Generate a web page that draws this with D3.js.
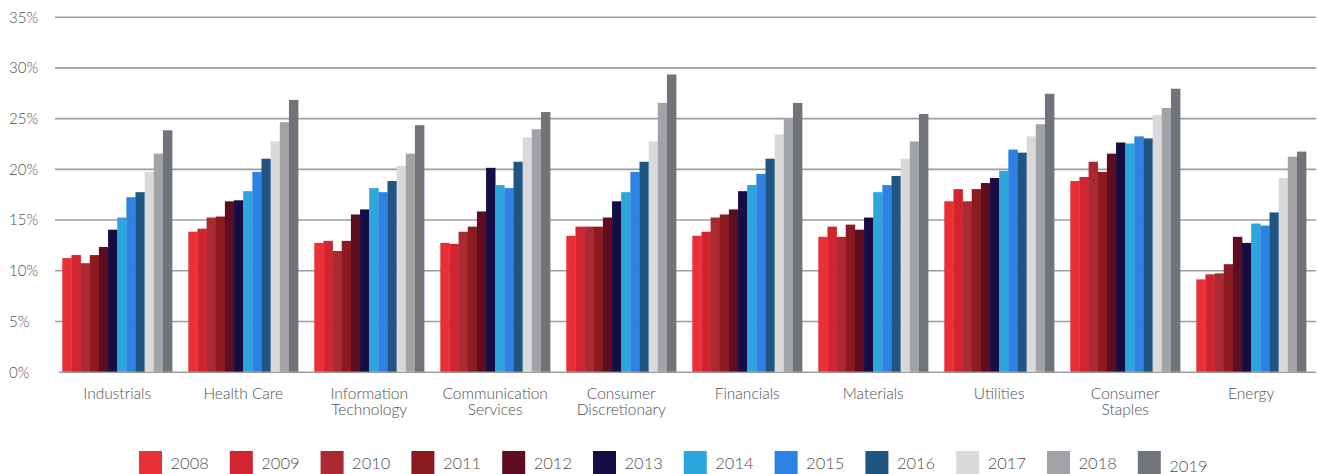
<!DOCTYPE html>
<html>
<head>
<meta charset="utf-8">
<script src="https://cdn.jsdelivr.net/npm/d3@7/dist/d3.min.js"></script>
<style>
  html, body { margin: 0; padding: 0; background: #fff; }
  svg { display: block; }
  text { font-family: Lato, "Open Sans", "Noto Sans", sans-serif; font-weight: 300; fill: #505052; }
</style>
</head>
<body>
<div id="chart"></div>
<script>
// Sector categories (line breaks marked with \n)
const sectors = [
  "Industrials", "Health Care", "Information\nTechnology", "Communication\nServices",
  "Consumer\nDiscretionary", "Financials", "Materials", "Utilities",
  "Consumer\nStaples", "Energy"
];

const years = ["2008","2009","2010","2011","2012","2013","2014","2015","2016","2017","2018","2019"];

const yearColors = ["#e83036","#d22331","#ab2a32","#8c1b21","#5e0d20","#170d45",
                    "#2ca6dd","#2d82e3","#1f5580","#d9d9d9","#a2a3a7","#707378"];

// Percent values per sector, one entry per year 2008..2019
const industrials     = [11.2, 11.5, 10.7, 11.5, 12.3, 14.0, 15.2, 17.2, 17.7, 19.7, 21.5, 23.8];
const healthCare      = [13.8, 14.1, 15.2, 15.3, 16.8, 16.9, 17.8, 19.7, 21.0, 22.7, 24.6, 26.8];
const infoTech        = [12.7, 12.9, 11.9, 12.9, 15.5, 16.0, 18.1, 17.7, 18.8, 20.3, 21.5, 24.3];
const commServices    = [12.7, 12.6, 13.8, 14.3, 15.8, 20.1, 18.4, 18.1, 20.7, 23.1, 23.9, 25.6];
const consumerDisc    = [13.4, 14.3, 14.3, 14.3, 15.2, 16.8, 17.7, 19.7, 20.7, 22.7, 26.5, 29.3];
const financials      = [13.4, 13.8, 15.2, 15.5, 16.0, 17.8, 18.4, 19.5, 21.0, 23.4, 25.0, 26.5];
const materials       = [13.3, 14.3, 13.3, 14.5, 14.0, 15.2, 17.7, 18.4, 19.3, 21.0, 22.7, 25.4];
const utilities       = [16.8, 18.0, 16.8, 18.0, 18.6, 19.1, 19.8, 21.9, 21.6, 23.2, 24.4, 27.4];
const consumerStaples = [18.8, 19.2, 20.7, 19.7, 21.5, 22.6, 22.5, 23.2, 23.0, 25.3, 26.0, 27.9];
const energy          = [ 9.1,  9.6,  9.7, 10.6, 13.3, 12.7, 14.6, 14.4, 15.7, 19.1, 21.2, 21.7];

const yTicks = [0, 5, 10, 15, 20, 25, 30, 35];

const seriesBySector = [industrials, healthCare, infoTech, commServices, consumerDisc,
                        financials, materials, utilities, consumerStaples, energy];

const rows = sectors.map((s, i) => ({
  sector: s,
  values: years.map((y, j) => ({ year: y, value: seriesBySector[i][j] }))
}));

const W = 1318, H = 474;
const svg = d3.select("#chart").append("svg").attr("width", W).attr("height", H);

const x0 = d3.scaleBand().domain(sectors).range([54.2, 1314.2])
  .paddingInner(0.1286).paddingOuter(0.0643);
const x1 = d3.scaleBand().domain(years).range([0, x0.bandwidth()]).padding(0);
const y = d3.scaleLinear().domain([0, 35]).range([371.7, 16.7]);
const color = d3.scaleOrdinal().domain(years).range(yearColors);

// Horizontal gridlines with left-aligned percentage labels
const yAxis = d3.axisLeft(y).tickValues(yTicks).tickSize(0).tickFormat(d => d + "%");
const gy = svg.append("g").call(yAxis);
gy.select(".domain").remove();
gy.selectAll(".tick text")
  .attr("x", 9).attr("dy", "0.36em")
  .attr("text-anchor", "start")
  .style("font-size", "15px")
  .style("font-family", "Lato, 'Open Sans', sans-serif")
  .style("font-weight", 300)
  .style("fill", "#505052");
gy.selectAll(".tick line").remove();
gy.selectAll(".tick").append("line")
  .attr("x1", d => d === 0 ? 59 : 55).attr("x2", 1316)
  .attr("y1", 0).attr("y2", 0)
  .attr("stroke", "#9d9d9d").attr("stroke-width", 1.6);

// Grouped bars
const groups = svg.append("g").selectAll("g")
  .data(rows).join("g")
  .attr("transform", d => `translate(${x0(d.sector)},0)`);

groups.selectAll("rect")
  .data(d => d.values).join("rect")
  .attr("x", d => x1(d.year))
  .attr("width", x1.bandwidth() + 0.3)
  .attr("y", d => y(d.value))
  .attr("height", d => y(0) - y(d.value))
  .attr("fill", d => color(d.year));

// Category labels under each group
const xLabels = svg.append("g").selectAll("text")
  .data(sectors).join("text")
  .attr("x", d => x0(d) + x0.bandwidth() / 2)
  .attr("y", 398.5)
  .attr("text-anchor", "middle")
  .style("font-size", "15.5px");
xLabels.selectAll("tspan")
  .data(d => d.split("\n")).join("tspan")
  .attr("x", function() { return d3.select(this.parentNode).attr("x"); })
  .attr("dy", (d, i) => i === 0 ? 0 : 16.5)
  .text(d => d);

// Legend
const legend = svg.append("g").selectAll("g")
  .data(years).join("g")
  .attr("transform", (d, i) => `translate(${139 + i * 90.8},451)`);
legend.append("rect")
  .attr("width", 23).attr("height", 23)
  .attr("fill", d => color(d));
legend.append("text")
  .attr("x", 31.5)
  .attr("y", (d, i) => i === years.length - 1 ? 20.5 : 17.8)
  .style("font-size", "16.5px")
  .text(d => d);
</script>
</body>
</html>
